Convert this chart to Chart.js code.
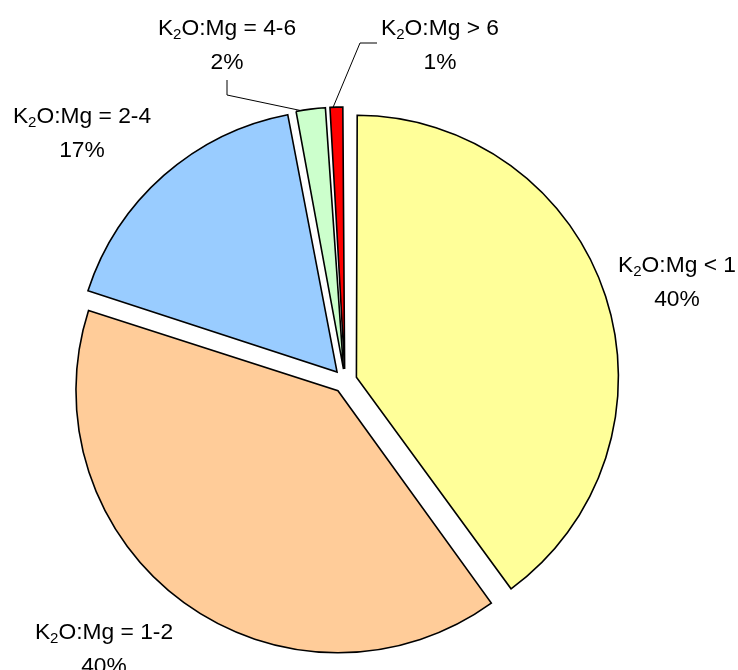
<!DOCTYPE html>
<html>
<head>
<meta charset="utf-8">
<script src="https://cdn.jsdelivr.net/npm/chart.js@4/dist/chart.umd.min.js"></script>
<style>
  html, body { margin: 0; padding: 0; background: #ffffff; }
  #wrap { width: 738px; height: 670px; position: relative; }
</style>
</head>
<body>
<div id="wrap"><canvas id="c" width="738" height="670"></canvas></div>
<script>
// K2O:Mg ratio classes and their share of samples (%)
const categories = ['< 1', '= 1-2', '= 2-4', '= 4-6', '> 6'];
const shares = [40, 40, 17, 2, 1];
const sliceColors = ['#FFFF99', '#FFCC99', '#99CCFF', '#CCFFCC', '#FF0000'];

// Where each class label sits: centre x, first-line baseline,
// optional leader polyline start, and where along the arc the leader lands.
const labelLayout = [
  { x: 677, y: 272 },
  { x: 104, y: 639 },
  { x: 82,  y: 123 },
  { x: 227, y: 35, leader: [[227, 80], [227, 95]], at: 0.2 },
  { x: 440, y: 35, leader: [[377, 43], [360, 43]], at: 0.3 }
];

const FONT_MAIN = '22.8px "Liberation Sans", Arial, sans-serif';
const FONT_SUB = '15px "Liberation Sans", Arial, sans-serif';
const EXPLODE = 48; // Chart.js translates arcs by offset / 4

// Keep every exploded slice at the same radius (Chart.js grows narrow
// slices by a little when they are offset).
const evenRadius = {
  id: 'evenRadius',
  afterDatasetUpdate(chart, args) {
    args.meta.data.forEach(arc => {
      const shift = (arc.options.offset || 0) / 4;
      const fix = 1 - Math.sin(Math.min(Math.PI, arc.circumference));
      arc.outerRadius -= shift * fix;
    });
  }
};

function drawClassLabel(ctx, cls, cx, baseline) {
  const parts = [
    { t: 'K', f: FONT_MAIN, dy: 0 },
    { t: '2', f: FONT_SUB, dy: 4 },
    { t: 'O:Mg ' + cls, f: FONT_MAIN, dy: 0 }
  ];
  let w = 0;
  parts.forEach(p => { ctx.font = p.f; p.w = ctx.measureText(p.t).width; w += p.w; });
  let x = cx - w / 2;
  ctx.textAlign = 'left';
  parts.forEach(p => {
    ctx.font = p.f;
    ctx.fillText(p.t, x, baseline + p.dy);
    x += p.w;
  });
}

const sliceLabels = {
  id: 'sliceLabels',
  afterDraw(chart) {
    const ctx = chart.ctx;
    const meta = chart.getDatasetMeta(0);
    ctx.save();
    ctx.fillStyle = '#000000';
    ctx.textBaseline = 'alphabetic';
    labelLayout.forEach((L, i) => {
      drawClassLabel(ctx, categories[i], L.x, L.y);
      ctx.font = FONT_MAIN;
      ctx.textAlign = 'center';
      ctx.fillText(shares[i] + '%', L.x, L.y + 34);
      if (L.leader) {
        const arc = meta.data[i];
        const half = (arc.startAngle + arc.endAngle) / 2;
        const shift = (arc.options.offset || 0) / 4;
        const fix = 1 - Math.sin(Math.min(Math.PI, arc.circumference));
        const r = arc.outerRadius + shift * fix;
        const a = arc.startAngle + L.at * (arc.endAngle - arc.startAngle);
        const ex = arc.x + Math.cos(half) * shift + Math.cos(a) * r;
        const ey = arc.y + Math.sin(half) * shift + Math.sin(a) * r;
        ctx.beginPath();
        ctx.strokeStyle = '#000000';
        ctx.lineWidth = 1;
        ctx.moveTo(L.leader[0][0], L.leader[0][1]);
        for (let k = 1; k < L.leader.length; k++) ctx.lineTo(L.leader[k][0], L.leader[k][1]);
        ctx.lineTo(ex, ey);
        ctx.stroke();
      }
    });
    ctx.restore();
  }
};

new Chart(document.getElementById('c'), {
  type: 'pie',
  data: {
    labels: categories.map(c => 'K2O:Mg ' + c),
    datasets: [{
      data: shares,
      backgroundColor: sliceColors,
      borderColor: '#000000',
      borderWidth: 1.6,
      borderJoinStyle: 'miter',
      offset: EXPLODE,
      radius: 262
    }]
  },
  options: {
    responsive: false,
    animation: false,
    events: [],
    layout: { padding: { left: 0, right: 48, top: 92, bottom: 0 } },
    plugins: {
      legend: { display: false },
      tooltip: { enabled: false }
    }
  },
  plugins: [evenRadius, sliceLabels]
});
</script>
</body>
</html>
